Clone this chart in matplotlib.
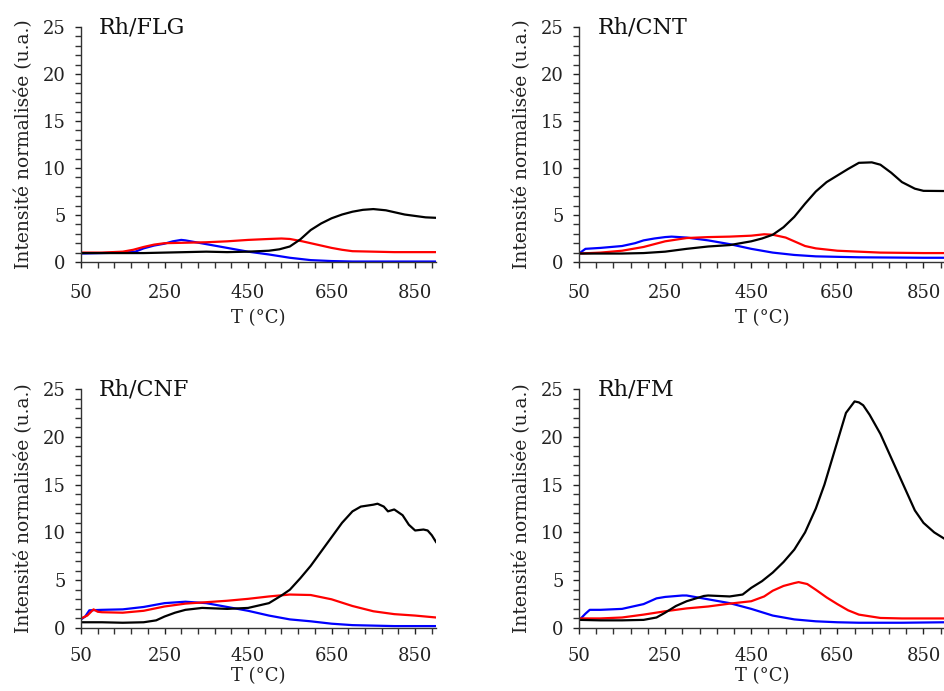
import matplotlib
matplotlib.use("Agg")
import matplotlib.pyplot as plt
from matplotlib.ticker import MultipleLocator, FixedLocator

plt.rcParams['font.family'] = ['DejaVu Serif']

titles = ["Rh/FLG", "Rh/CNT", "Rh/CNF", "Rh/FM"]

# Rh/FLG
flg_black_T = [50, 100, 150, 200, 250, 300, 350, 400, 450, 500, 525, 550, 575, 600, 625, 650, 675, 700, 725, 750, 780, 800, 825, 850, 875, 900]
flg_black_I = [0.95, 0.95, 0.95, 0.95, 1.0, 1.05, 1.1, 1.05, 1.1, 1.2, 1.35, 1.65, 2.4, 3.4, 4.1, 4.65, 5.05, 5.35, 5.55, 5.63, 5.5, 5.3, 5.05, 4.9, 4.75, 4.7]
flg_blue_T = [50, 100, 150, 180, 200, 225, 250, 270, 290, 300, 325, 350, 400, 450, 500, 550, 600, 650, 700, 800, 900]
flg_blue_I = [0.9, 0.95, 1.0, 1.1, 1.45, 1.75, 1.95, 2.2, 2.35, 2.3, 2.1, 1.9, 1.5, 1.1, 0.8, 0.45, 0.2, 0.1, 0.05, 0.05, 0.05]
flg_red_T = [50, 100, 150, 175, 200, 225, 250, 300, 350, 400, 450, 500, 530, 550, 580, 600, 625, 650, 675, 700, 750, 800, 900]
flg_red_I = [1.0, 1.0, 1.1, 1.3, 1.6, 1.85, 2.0, 2.05, 2.1, 2.2, 2.35, 2.45, 2.5, 2.45, 2.2, 2.0, 1.75, 1.5, 1.3, 1.15, 1.1, 1.05, 1.05]

# Rh/CNT
cnt_black_T = [50, 100, 150, 200, 250, 300, 350, 400, 450, 475, 500, 525, 550, 575, 600, 625, 650, 675, 700, 730, 750, 775, 800, 830, 850, 900]
cnt_black_I = [0.9, 0.9, 0.9, 0.95, 1.1, 1.4, 1.65, 1.8, 2.2, 2.5, 2.9, 3.7, 4.8, 6.2, 7.5, 8.5, 9.2, 9.9, 10.55, 10.6, 10.35, 9.5, 8.5, 7.8, 7.57, 7.55]
cnt_blue_T = [50, 65, 100, 150, 180, 200, 225, 250, 265, 300, 350, 400, 450, 500, 550, 600, 650, 700, 850, 900]
cnt_blue_I = [0.9, 1.4, 1.5, 1.7, 2.0, 2.3, 2.5, 2.65, 2.7, 2.6, 2.3, 1.9, 1.4, 1.0, 0.75, 0.6, 0.55, 0.5, 0.45, 0.45]
cnt_red_T = [50, 100, 150, 200, 250, 300, 350, 400, 450, 480, 500, 530, 550, 575, 600, 650, 700, 750, 850, 900]
cnt_red_I = [0.9, 1.0, 1.2, 1.6, 2.2, 2.55, 2.65, 2.7, 2.8, 2.95, 2.9, 2.6, 2.2, 1.7, 1.45, 1.2, 1.1, 1.0, 0.95, 0.95]

# Rh/CNF
cnf_black_T = [50, 100, 150, 200, 230, 250, 275, 300, 340, 400, 450, 500, 530, 550, 575, 600, 625, 650, 675, 700, 720, 750, 760, 775, 785, 800, 820, 835, 850, 870, 880, 890, 900]
cnf_black_I = [0.6, 0.6, 0.55, 0.6, 0.8, 1.2, 1.6, 1.9, 2.1, 2.0, 2.1, 2.6, 3.4, 4.0, 5.2, 6.5, 8.0, 9.5, 11.0, 12.2, 12.7, 12.9, 13.0, 12.7, 12.2, 12.4, 11.8, 10.8, 10.2, 10.3, 10.2, 9.7, 9.0]
cnf_blue_T = [50, 60, 70, 100, 150, 200, 250, 300, 350, 400, 450, 500, 550, 600, 650, 700, 800, 900]
cnf_blue_I = [0.9, 1.2, 1.85, 1.9, 1.95, 2.2, 2.6, 2.75, 2.6, 2.2, 1.8, 1.3, 0.9, 0.7, 0.45, 0.3, 0.2, 0.2]
cnf_red_T = [50, 65, 80, 90, 100, 150, 200, 250, 300, 350, 400, 450, 500, 550, 600, 650, 700, 750, 800, 850, 900]
cnf_red_I = [1.0, 1.3, 1.95, 1.7, 1.65, 1.6, 1.8, 2.25, 2.55, 2.7, 2.85, 3.05, 3.3, 3.5, 3.45, 3.0, 2.3, 1.75, 1.45, 1.3, 1.1]

# Rh/FM
fm_black_T = [50, 100, 150, 200, 230, 250, 275, 300, 340, 350, 400, 430, 450, 475, 500, 525, 550, 575, 600, 620, 650, 670, 690, 700, 710, 725, 750, 775, 800, 830, 850, 875, 900]
fm_black_I = [0.85, 0.8, 0.8, 0.85, 1.1, 1.6, 2.3, 2.8, 3.35, 3.4, 3.3, 3.5, 4.2, 4.9, 5.8, 6.9, 8.2, 10.0, 12.5, 15.0, 19.5, 22.5, 23.7, 23.6, 23.3, 22.3, 20.3, 17.8, 15.3, 12.3, 11.0, 10.0, 9.3]
fm_blue_T = [50, 65, 75, 100, 150, 200, 230, 250, 290, 300, 350, 400, 450, 500, 550, 600, 650, 700, 800, 900]
fm_blue_I = [0.8, 1.5, 1.9, 1.9, 2.0, 2.5, 3.1, 3.25, 3.4, 3.4, 3.0, 2.6, 2.0, 1.3, 0.9, 0.7, 0.6, 0.55, 0.55, 0.6]
fm_red_T = [50, 100, 150, 200, 250, 300, 350, 400, 450, 480, 500, 525, 550, 560, 580, 600, 625, 650, 675, 700, 750, 800, 900]
fm_red_I = [1.0, 1.0, 1.1, 1.4, 1.75, 2.05, 2.25, 2.55, 2.8, 3.3, 3.9, 4.4, 4.7, 4.8, 4.6, 4.0, 3.2, 2.5, 1.85, 1.4, 1.05, 1.0, 1.0]

panels = [
    (flg_black_T, flg_black_I, flg_blue_T, flg_blue_I, flg_red_T, flg_red_I),
    (cnt_black_T, cnt_black_I, cnt_blue_T, cnt_blue_I, cnt_red_T, cnt_red_I),
    (cnf_black_T, cnf_black_I, cnf_blue_T, cnf_blue_I, cnf_red_T, cnf_red_I),
    (fm_black_T, fm_black_I, fm_blue_T, fm_blue_I, fm_red_T, fm_red_I),
]

W, H = 944, 691
fig = plt.figure(figsize=(W / 100, H / 100), dpi=100)

# axes boxes in pixels: left, top, right, bottom
boxes = [
    (81, 27, 436, 262),
    (579, 27, 944 + 1, 262),
    (81, 389, 436, 628),
    (579, 389, 944 + 1, 628),
]

for i, (box, title, data) in enumerate(zip(boxes, titles, panels)):
    l, t, r, b = box
    ax = fig.add_axes([l / W, 1 - b / H, (r - l) / W, (b - t) / H])
    bT, bI, uT, uI, rT, rI = data
    ax.plot(uT, uI, color='#0000ff', lw=1.6, solid_joinstyle='round')
    ax.plot(rT, rI, color='#ff0000', lw=1.6, solid_joinstyle='round')
    ax.plot(bT, bI, color='black', lw=1.6, solid_joinstyle='round')
    ax.set_xlim(50, 900)
    ax.set_ylim(0, 25)
    ax.xaxis.set_major_locator(FixedLocator([50, 250, 450, 650, 850]))
    ax.xaxis.set_minor_locator(FixedLocator([50 + 40 * k for k in range(22)]))
    ax.yaxis.set_major_locator(MultipleLocator(5))
    ax.yaxis.set_minor_locator(MultipleLocator(1))
    for sp in ['top', 'right']:
        ax.spines[sp].set_visible(False)
    for sp in ['left', 'bottom']:
        ax.spines[sp].set_linewidth(1.0)
        ax.spines[sp].set_color('#333333')
    ax.tick_params(axis='both', which='both', direction='out', length=4, width=1.0, color='#333333')
    ax.tick_params(axis='both', which='major', labelsize=13, colors='#222222')
    ax.tick_params(axis='y', which='major', pad=7)
    ax.tick_params(axis='x', which='major', pad=12 if i < 2 else 10)
    ax.set_xlabel("T (°C)", fontsize=13, color='#222222', labelpad=5 if i < 2 else 1)
    ax.set_ylabel("Intensité normalisée (u.a.)", fontsize=13.5, color='#222222', labelpad=7)
    ax.text(0.05, 1.0, title, transform=ax.transAxes, fontsize=16, color='#111111',
            ha='left', va='center')
    ax.set_facecolor('none')

fig.savefig("out.png", dpi=100, facecolor='white')
